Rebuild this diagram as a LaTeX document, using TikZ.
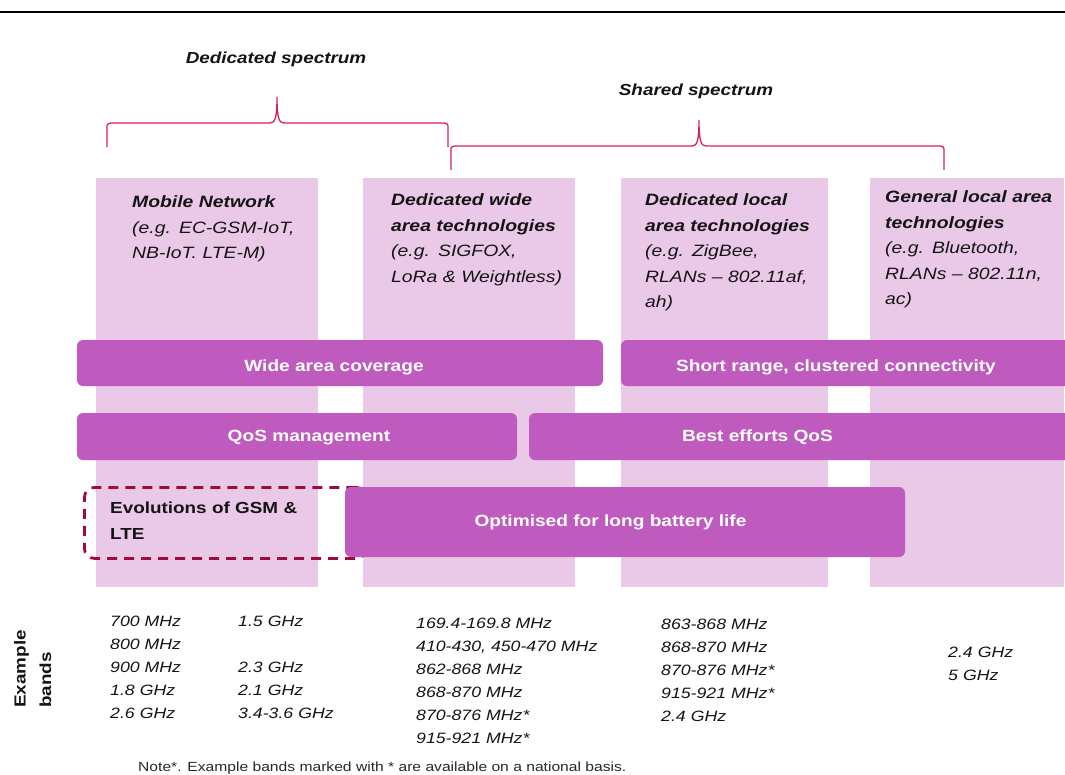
\documentclass[tikz,border=0pt]{standalone}
\usepackage{fontspec}
\setmainfont{Liberation Sans}[FakeStretch=1.18]
\definecolor{colbg}{RGB}{234,200,232}
\definecolor{barfill}{RGB}{191,91,191}
\definecolor{bracecol}{RGB}{214,30,96}
\definecolor{dashcol}{RGB}{158,12,60}
\definecolor{txt}{RGB}{20,20,20}
\definecolor{notecol}{RGB}{40,40,40}
\tikzset{
  col/.style={fill=colbg, draw=none, anchor=north west, inner sep=0pt},
  bar/.style={fill=barfill, rounded corners=6pt, inner sep=0pt},
  barlabel/.style={anchor=base, inner sep=0pt, text=white,
    font=\bfseries\fontsize{16.2}{19}\selectfont},
  coltext/.style={anchor=base west, inner sep=0pt, text width=200pt, align=left,
    text=txt, font=\itshape\fontsize{16.4}{25.5}\selectfont},
  band/.style={anchor=base west, inner sep=0pt, text width=220pt, align=left,
    text=txt, font=\itshape\fontsize{15}{23}\selectfont},
  head/.style={anchor=base, inner sep=0pt, text=txt,
    font=\bfseries\itshape\fontsize{16}{19}\selectfont},
  bracepath/.style={draw=bracecol, line width=1.3pt},
  dashbox/.style={draw=dashcol, line width=2.8pt, dash pattern=on 10pt off 7pt,
    rounded corners=10pt, anchor=north west, inner sep=0pt}
}
\begin{document}
\begin{tikzpicture}[x=1pt,y=-1pt]
\useasboundingbox (0,0) rectangle (1065,774);
% top rule
\coordinate (tl) at (0,12);
\coordinate (tr) at (1065,12);
\draw[line width=2.6pt, black] (tl) -- (tr);
% headers
\node[head] (dedhead) at (276,63.5) {Dedicated spectrum};
\node[head] (shhead) at (696,95.5) {Shared spectrum};
% braces
\draw[bracepath] (107,147) -- (107,128) .. controls (107,124) .. (111,123)
  -- (270,123) .. controls (275,123) and (277,118) .. (277,97)
  .. controls (277,118) and (279,123) .. (284,123)
  -- (444,123) .. controls (448,124) .. (448,128) -- (448,147);
\draw[bracepath] (451,170) -- (451,151) .. controls (451,147) .. (455,146)
  -- (692,146) .. controls (697,146) and (699,141) .. (699,120)
  .. controls (699,141) and (701,146) .. (706,146)
  -- (940,146) .. controls (944,147) .. (944,151) -- (944,170);
% columns
\node[col, minimum width=222pt, minimum height=409pt] (c1) at (96,178) {};
\node[col, minimum width=212pt, minimum height=409pt] (c2) at (363,178) {};
\node[col, minimum width=207pt, minimum height=409pt] (c3) at (621,178) {};
\node[col, minimum width=194pt, minimum height=409pt] (c4) at (870,178) {};
% column texts
\node[coltext] (t1) at (132,207.5) {\textbf{Mobile Network}\\(e.g. EC-GSM-IoT,\\NB-IoT. LTE-M)};
\node[coltext] (t2) at (391,205.5) {\textbf{Dedicated wide}\\\textbf{area technologies}\\(e.g. SIGFOX,\\LoRa \& Weightless)};
\node[coltext] (t3) at (645,205.5) {\textbf{Dedicated local}\\\textbf{area technologies}\\(e.g. ZigBee,\\RLANs – 802.11af,\\ah)};
\node[coltext] (t4) at (885,202.5) {\textbf{General local area}\\\textbf{technologies}\\(e.g. Bluetooth,\\RLANs – 802.11n,\\ac)};
% bars
\node[bar, minimum width=526pt, minimum height=46pt] (wide) at (340,363) {};
\node[barlabel] (widelbl) at (334,371.5) {Wide area coverage};
\node[bar, minimum width=459pt, minimum height=46pt] (short) at (850.5,363) {};
\node[barlabel] (shortlbl) at (836,371) {Short range, clustered connectivity};
\node[bar, minimum width=440pt, minimum height=47pt] (qos) at (297,436.5) {};
\node[barlabel] (qoslbl) at (309,441) {QoS management};
\node[bar, minimum width=551pt, minimum height=47pt] (best) at (804.5,436.5) {};
\node[barlabel] (bestlbl) at (757.5,441) {Best efforts QoS};
\node[dashbox, minimum width=282pt, minimum height=71pt] (evo) at (83,486) {};
\node[anchor=base west, inner sep=0pt, text width=220pt, align=left, text=txt,
  font=\bfseries\fontsize{16}{26}\selectfont] (evotext) at (110,513) {Evolutions of GSM \&\\LTE};
\node[bar, minimum width=560pt, minimum height=70pt] (batt) at (625,522) {};
\node[barlabel] (battlbl) at (610.5,526) {Optimised for long battery life};
% example bands
\node[rotate=90, anchor=base west, inner sep=0pt, text width=120pt, align=left, text=txt,
  font=\bfseries\fontsize{16}{25.5}\selectfont] (exb) at (25.5,708) {Example\\bands};
\node[band] (b1a) at (110,626) {700 MHz\\800 MHz\\900 MHz\\1.8 GHz\\2.6 GHz};
\node[band] (b1b) at (238,626) {1.5 GHz\\\mbox{}\\2.3 GHz\\2.1 GHz\\3.4-3.6 GHz};
\node[band] (b2) at (416,628) {169.4-169.8 MHz\\410-430, 450-470 MHz\\862-868 MHz\\868-870 MHz\\870-876 MHz*\\915-921 MHz*};
\node[band] (b3) at (661,629) {863-868 MHz\\868-870 MHz\\870-876 MHz*\\915-921 MHz*\\2.4 GHz};
\node[band] (b4) at (948,657) {2.4 GHz\\5 GHz};
% note
\node[anchor=base west, inner sep=0pt, text=notecol, font=\fontsize{13.25}{15}\selectfont] (note) at (138,771) {Note*. Example bands marked with * are available on a national basis.};
\end{tikzpicture}
\end{document}
